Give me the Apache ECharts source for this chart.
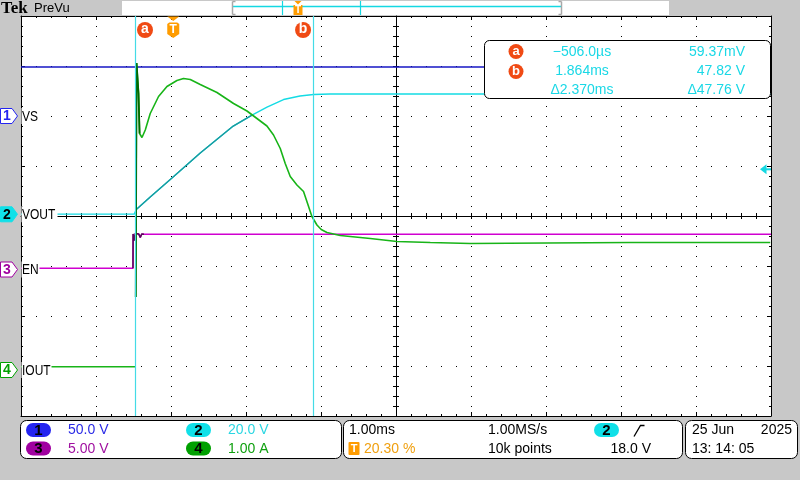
<!DOCTYPE html>
<html><head><meta charset="utf-8">
<script src="https://cdn.jsdelivr.net/npm/echarts@6/dist/echarts.min.js"></script>
<style>html,body{margin:0;padding:0;background:#c8c8c8;overflow:hidden}#c{width:800px;height:480px}</style>
</head><body><div id="c"></div>
<script>
// ---------------- data ----------------
const timePerDiv = 1.00;            // ms/div
const trigPct = 20.30;              // trigger position, % of record on screen
const xMin = -trigPct / 10 * timePerDiv;   // -2.03 ms
const xMax = xMin + 10 * timePerDiv;       //  7.97 ms

const chNames  = ['VS', 'VOUT', 'EN', 'IOUT'];
const chScales = [50, 20, 5, 1];           // units per division
const chGround = [6.0, 4.034, 2.93, 0.92]; // ground marker, divisions from bottom

// Ch1 VS (V)
const vsT = [-2.03, 7.97];
const vsV = [49.0, 49.0];

// Ch2 VOUT (V)
const voutT = [-2.03, -0.52, -0.493, -0.307, -0.017, 0.36, 0.80, 1.05, 1.25, 1.47, 1.69, 1.87, 2.09, 7.97];
const voutV = [0.06, 0.06, 1.9, 6.9, 14.5, 24.5, 35.3, 39.7, 42.9, 45.9, 47.3, 47.9, 48.1, 48.1];

// Ch3 EN (V)
const enT = [-2.03, -0.537, -0.535, -0.52, -0.505, -0.46, -0.44, -0.42, -0.39, 7.97];
const enV = [0.12, 0.12, 3.55, 2.9, 3.6, 3.55, 3.2, 3.55, 3.52, 3.52];

// Ch4 IOUT (A)  (null = display gap at the trigger edge)
const ioutT = [-2.03, -0.506, -0.503, -0.5, -0.489, -0.476, -0.463, -0.449, -0.417, -0.373, -0.307, -0.196, -0.084,
  0.049, 0.137, 0.227, 0.36, 0.583, 0.804, 0.983, 1.116, 1.249, 1.337, 1.427, 1.493, 1.56, 1.649, 1.737,
  1.791, 1.849, 1.916, 1.973, 2.049, 2.227, 2.36, 2.627, 2.983, 3.427, 3.96, 4.983, 6.093, 7.027, 7.96];
const ioutV = [0.066, 0.066, null, 1.46, 6.14, 6.13, 5.53, 4.73, 4.65, 4.80, 5.13, 5.47, 5.67,
  5.79, 5.83, 5.81, 5.71, 5.55, 5.33, 5.18, 5.03, 4.88, 4.70, 4.43, 4.13, 3.87, 3.70, 3.57,
  3.33, 3.07, 2.90, 2.81, 2.75, 2.69, 2.67, 2.63, 2.57, 2.55, 2.53, 2.54, 2.55, 2.55, 2.55];

// cursors & readouts
const cursorT = [-0.506, 1.864];
const cursorNames = ['a', 'b'];
const readTime = ['\u2212506.0\u00b5s', '1.864ms', '\u03942.370ms'];
const readVal  = ['59.37mV', '47.82 V', '\u039447.76 V'];
const trigLevel = 18.0;             // on channel 2
const scaleText = ['50.0 V', '20.0 V', '5.00 V', '1.00 A'];
const horizText = ['1.00ms', '20.30 %', '1.00MS/s', '10k points', '18.0 V'];
const dateText  = ['25 Jun', '2025', '13: 14: 05'];

// ---------------- styles ----------------
const FONT = '14px "Liberation Sans", Arial, sans-serif';
const traceCol = ['#1616c4', '#14dbe4', '#d000d0', '#18b418'];
const badgeCol = ['#2424f0', '#10e0e8', '#a000a0', '#00a000'];
const textCol  = ['#2a2ae6', '#2ad6e2', '#a010a0', '#10a010'];
const ORANGE = '#ff9c00', CURSOR = '#44dbe6', RED = '#f04a14', READ = '#1ad8e6';

const pairs = (t, v) => t.map((x, i) => [x, v[i] === null ? '-' : v[i]]);

const chart = echarts.init(document.getElementById('c'), null, {renderer: 'canvas', width: 800, height: 480});

const gridAxisBase = {type: 'value', axisLabel: {show: false}, splitLine: {show: false}};
const blk = {color: '#000', width: 1};
function xa(extra) { return Object.assign({}, gridAxisBase, {min: 0, max: 10, interval: 1}, extra); }
function ya(extra) { return Object.assign({}, gridAxisBase, {min: 0, max: 8, interval: 1}, extra); }
function al(show) { return {show: show, onZero: false, lineStyle: blk}; }

const chanY = chScales.map((s, i) => ({type: 'value', show: false, min: -chGround[i] * s, max: (8 - chGround[i]) * s,
  axisLine: {onZero: false}}));

const option = {
  animation: false,
  backgroundColor: 'transparent',
  grid: {left: 21, top: 16, width: 750, height: 400, show: true, backgroundColor: '#ffffff', borderWidth: 0},
  xAxis: [
    {type: 'value', min: xMin, max: xMax, show: false, axisLine: {onZero: false}},
    xa({position: 'bottom', axisLine: al(true),
        axisTick: {show: true, inside: true, length: 4, lineStyle: blk},
        minorTick: {show: true, splitNumber: 5, length: 2, lineStyle: blk},
        splitLine: {show: true, lineStyle: {color: '#000', width: 1, type: [1, 9], cap: 'butt'}}}),
    xa({position: 'top', axisLine: al(true),
        axisTick: {show: true, inside: true, length: 4, lineStyle: blk},
        minorTick: {show: true, splitNumber: 5, length: 2, lineStyle: blk}}),
    xa({position: 'bottom', offset: -200, axisLine: al(true),
        axisTick: {show: true, inside: true, length: 3, lineStyle: blk},
        minorTick: {show: true, splitNumber: 5, length: 3, lineStyle: blk}}),
    xa({position: 'bottom', offset: -200, axisLine: al(false),
        axisTick: {show: true, inside: false, length: 3, lineStyle: blk},
        minorTick: {show: true, splitNumber: 5, length: 3, lineStyle: blk}})
  ],
  yAxis: [
    ya({position: 'left', axisLine: al(true),
        axisTick: {show: true, inside: true, length: 4, lineStyle: blk},
        minorTick: {show: true, splitNumber: 5, length: 2, lineStyle: blk},
        splitLine: {show: true, lineStyle: {color: '#000', width: 1, type: [1, 14], cap: 'butt'}}}),
    ya({position: 'right', axisLine: al(true),
        axisTick: {show: true, inside: true, length: 4, lineStyle: blk},
        minorTick: {show: true, splitNumber: 5, length: 2, lineStyle: blk}}),
    ya({position: 'left', offset: -375, axisLine: al(true),
        axisTick: {show: true, inside: true, length: 3, lineStyle: blk},
        minorTick: {show: true, splitNumber: 5, length: 3, lineStyle: blk}}),
    ya({position: 'left', offset: -375, axisLine: al(false),
        axisTick: {show: true, inside: false, length: 3, lineStyle: blk},
        minorTick: {show: true, splitNumber: 5, length: 3, lineStyle: blk}})
  ].concat(chanY),
  series: [
    {type: 'line', name: chNames[0], xAxisIndex: 0, yAxisIndex: 4, data: pairs(vsT, vsV), symbol: 'none',
     lineStyle: {color: traceCol[0], width: 1.6}, z: 3},
    {type: 'line', name: chNames[1], xAxisIndex: 0, yAxisIndex: 5, data: pairs(voutT, voutV), symbol: 'none',
     lineStyle: {color: traceCol[1], width: 1.4}, z: 3},
    {type: 'line', name: chNames[1] + ' ramp', xAxisIndex: 0, yAxisIndex: 5, data: pairs(voutT.slice(2, 8), voutV.slice(2, 8)), symbol: 'none',
     lineStyle: {color: '#1a9a9e', width: 1.4}, z: 3},
    {type: 'line', name: chNames[2], xAxisIndex: 0, yAxisIndex: 6, data: pairs(enT, enV), symbol: 'none',
     lineStyle: {color: traceCol[2], width: 1.4}, z: 3},
    {type: 'line', name: chNames[2] + ' edge', xAxisIndex: 0, yAxisIndex: 6, data: pairs(enT.slice(1, 9), enV.slice(1, 9)), symbol: 'none',
     lineStyle: {color: '#5a0a5a', width: 1.6}, z: 3},
    {type: 'line', name: chNames[3], xAxisIndex: 0, yAxisIndex: 7, data: pairs(ioutT, ioutV), symbol: 'none',
     connectNulls: false, lineStyle: {color: traceCol[3], width: 1.6}, z: 3},
    {type: 'line', name: chNames[3] + ' spike', xAxisIndex: 0, yAxisIndex: 7, data: pairs(ioutT.slice(3, 8), ioutV.slice(3, 8)), symbol: 'none',
     lineStyle: {color: '#006800', width: 1.8}, z: 3},
    {type: 'line', name: 'cursors', xAxisIndex: 0, yAxisIndex: 4, data: [], z: 6,
     markLine: {silent: true, symbol: 'none', label: {show: false}, animation: false, z: 6,
       lineStyle: {color: CURSOR, width: 1.2, type: 'solid'},
       data: cursorT.map(t => ({xAxis: t}))}}
  ]
};
chart.setOption(option);

// ---------------- chrome (screen furniture) ----------------
const G = [];
const Z = 100;
function rect(x, y, w, h, fill, stroke, r, z) {
  G.push({type: 'rect', shape: {x, y, width: w, height: h, r: r || 0},
    style: {fill: fill || 'none', stroke: stroke || 'none', lineWidth: 1}, z: z || Z});
}
function txt(x, y, s, color, align, font, z, sx) {
  align = align || 'left';
  const el = {type: 'text', x, y, z: z || Z + 2,
    style: {text: s, fill: color, font: font || FONT, align, textAlign: align, verticalAlign: 'middle', textVerticalAlign: 'middle'}};
  if (sx) el.scaleX = sx;
  G.push(el);
}
function poly(points, fill, stroke, z) {
  G.push({type: 'polygon', shape: {points}, style: {fill: fill || 'none', stroke: stroke || 'none', lineWidth: 1}, z: z || Z + 1});
}
function line(x1, y1, x2, y2, stroke, w, z) {
  G.push({type: 'line', shape: {x1, y1, x2, y2}, style: {stroke, lineWidth: w || 1}, z: z || Z + 1});
}
function circ(cx, cy, r, fill, z) {
  G.push({type: 'circle', shape: {cx, cy, r}, style: {fill}, z: z || Z + 1});
}

const px = t => chart.convertToPixel({xAxisIndex: 0}, t);
const py = (ch, v) => chart.convertToPixel({yAxisIndex: 4 + ch}, v);

// top bar
txt(1, 9, 'Tek', '#000', 'left', 'bold 17px "Liberation Serif", serif');
txt(34, 8.5, 'PreVu', '#000', 'left', '13px "Liberation Sans", Arial, sans-serif');
rect(122, 1, 547, 14, '#ffffff', null, 0);
line(233, 6.5, 561, 6.5, '#14d8e2', 1.4);
line(232.5, 1.5, 232.5, 14.5, '#a8a8a8', 1.5);
line(232.5, 1.5, 235.5, 1.5, '#a8a8a8', 1.5);
line(232.5, 14.5, 235.5, 14.5, '#a8a8a8', 1.5);
line(561.5, 1.5, 561.5, 14.5, '#a8a8a8', 1.5);
line(561.5, 1.5, 558.5, 1.5, '#a8a8a8', 1.5);
line(561.5, 14.5, 558.5, 14.5, '#a8a8a8', 1.5);
line(282.5, 1, 282.5, 15, '#14d8e2', 1.2);
line(360.5, 1, 360.5, 15, '#14d8e2', 1.2);
poly([[294.5, 1], [301.5, 1], [298, 4.5]], ORANGE);
rect(293.5, 5, 9, 10, ORANGE, null, 0, Z + 1);
txt(298, 10.5, 'T', '#fff', 'center', 'bold 10px "Liberation Sans", Arial, sans-serif');

// trigger position marker
const tx = px(0);
poly([[tx - 6, 16.5], [tx + 6, 16.5], [tx, 21]], ORANGE);
poly([[tx - 6, 24], [tx - 4, 22.5], [tx + 4, 22.5], [tx + 6, 24], [tx + 6, 34], [tx, 38], [tx - 6, 34]], ORANGE);
txt(tx, 30, 'T', '#fff', 'center', 'bold 12px "Liberation Sans", Arial, sans-serif');

// cursor badges
cursorT.forEach((t, i) => {
  const cx = px(t) + (i === 0 ? 9.7 : -10);
  circ(cx, 30, 8, RED);
  txt(cx, 29.5, cursorNames[i], '#fff', 'center', 'bold 14px "Liberation Sans", Arial, sans-serif');
});

// cursor readout box
rect(484.5, 40.5, 286, 58, '#ffffff', '#000', 5, Z);
[0, 1].forEach(i => {
  circ(516, 51.5 + i * 20, 7.5, RED);
  txt(516, 51 + i * 20, cursorNames[i], '#fff', 'center', 'bold 13px "Liberation Sans", Arial, sans-serif');
});
readTime.forEach((s, i) => txt(582, 52 + i * 19.2, s, READ, 'center'));
readVal.forEach((s, i) => txt(745, 52 + i * 19.2, s, READ, 'right'));

// trigger level arrow (channel 2)
const ly = py(1, trigLevel);
poly([[760, ly], [766.5, ly - 5], [766.5, ly + 5]], '#14d8e2', null, Z + 3);
rect(766, ly - 1, 5, 2, '#14d8e2', null, 0, Z + 3);

// channel markers and labels
const labelW = [19, 36, 18, 30];
chNames.forEach((n, i) => {
  const y = py(i, 0);
  const filled = (i === 1);
  poly([[0.5, y - 7.5], [12, y - 7.5], [17.5, y], [12, y + 7.5], [0.5, y + 7.5]],
       filled ? badgeCol[i] : '#ffffff', badgeCol[i], Z + 3);
  txt(7, y + 0.5, String(i + 1), filled ? '#000' : badgeCol[i], 'center', 'bold 14px "Liberation Sans", Arial, sans-serif', Z + 4);
  rect(21.5, y - 8, labelW[i], 16, '#ffffff', null, 0, Z);
  txt(22, y + 0.5, n, '#000', 'left', '15px "Liberation Sans", Arial, sans-serif', Z + 2, 0.8);
});

// bottom status boxes
rect(20.5, 420.5, 321, 38, '#ffffff', '#000', 6, Z);
rect(343.5, 420.5, 339, 38, '#ffffff', '#000', 6, Z);
rect(685.5, 420.5, 112, 38, '#ffffff', '#000', 6, Z);
const pillOrder = [0, 2, 1, 3];   // 1,3 on the left, 2,4 on the right
pillOrder.forEach((ch, k) => {
  const x = k < 2 ? 26 : 186, y = (k % 2 === 0) ? 423 : 441.5;
  rect(x, y, 25, 14, badgeCol[ch], null, 7, Z + 1);
  txt(x + 12.5, y + 7.5, String(ch + 1), '#000', 'center', 'bold 15px "Liberation Sans", Arial, sans-serif');
  txt(x + 42, y + 7.5, scaleText[ch], textCol[ch], 'left');
});
txt(349, 430.5, horizText[0], '#000');
rect(348.5, 442, 11, 13, ORANGE, null, 1, Z + 1);
txt(354, 448.5, 'T', '#fff', 'center', 'bold 11px "Liberation Sans", Arial, sans-serif');
txt(364, 449, horizText[1], '#f0a010');
txt(488, 430.5, horizText[2], '#000');
txt(488, 449, horizText[3], '#000');
rect(594, 423, 25, 14, badgeCol[1], null, 7, Z + 1);
txt(606.5, 430.5, '2', '#000', 'center', 'bold 15px "Liberation Sans", Arial, sans-serif');
G.push({type: 'polyline', shape: {points: [[634, 436.5], [640.5, 425.5], [644.5, 425.5]]}, style: {stroke: '#000', lineWidth: 1.3, fill: 'none'}, z: Z + 2});
txt(651, 449, horizText[4], '#000', 'right');
txt(692, 430.5, dateText[0], '#000');
txt(792, 430.5, dateText[1], '#000', 'right');
txt(692, 449, dateText[2], '#000');

chart.setOption({graphic: {elements: G}});
</script></body></html>
